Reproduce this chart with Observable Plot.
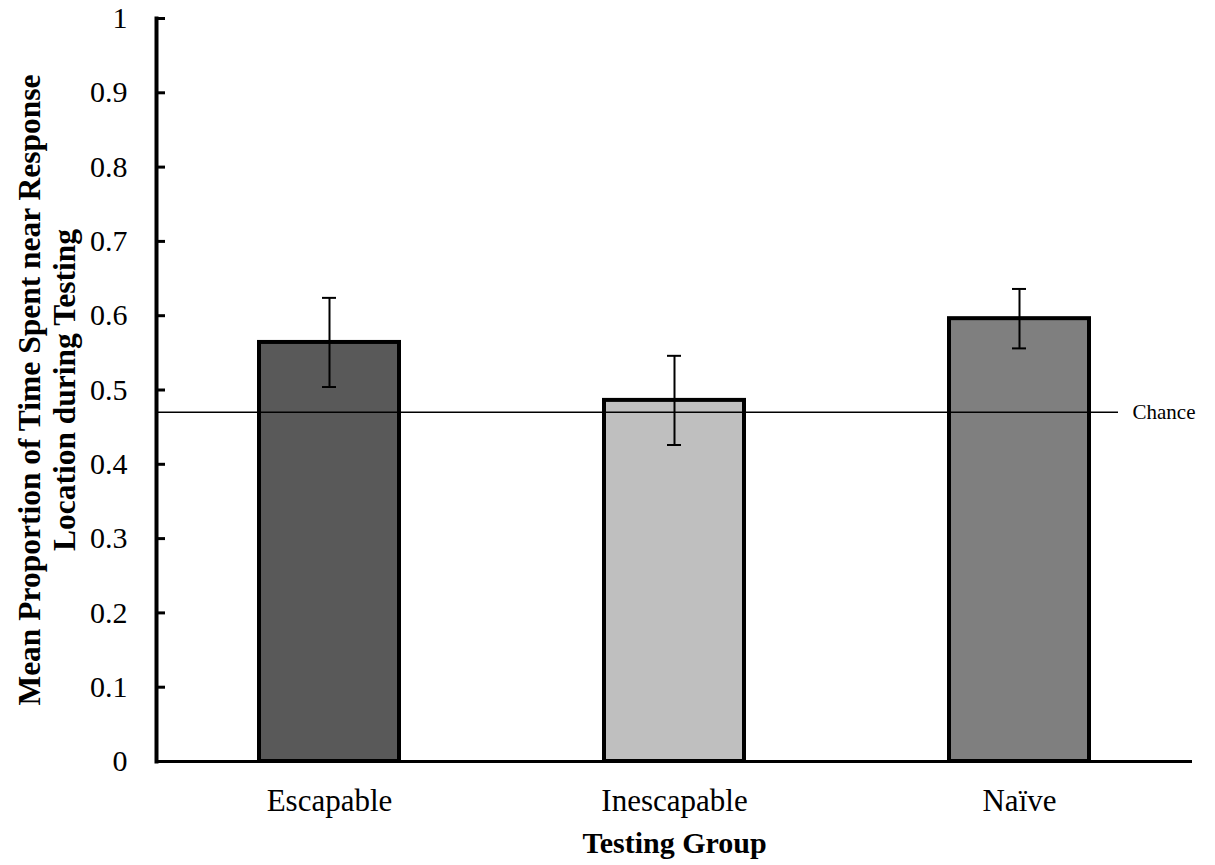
<!DOCTYPE html>
<html>
<head>
<meta charset="utf-8">
<script src="https://cdn.jsdelivr.net/npm/d3@7"></script>
<script src="https://cdn.jsdelivr.net/npm/@observablehq/plot@0.6"></script>
<style>
  html, body { margin: 0; padding: 0; background: #fff; }
  #chart svg { display: block; }
</style>
</head>
<body>
<div id="chart"></div>
<script>
const groups = ["Escapable", "Inescapable", "Naïve"];
const means = [0.564, 0.486, 0.596];
const errors = [0.060, 0.060, 0.040];
const barColors = ["#595959", "#bfbfbf", "#7f7f7f"];
const chance = 0.470;
const chanceLabel = "Chance";
const yTicks = [0, 0.1, 0.2, 0.3, 0.4, 0.5, 0.6, 0.7, 0.8, 0.9, 1];
const yTickLabels = ["0", "0.1", "0.2", "0.3", "0.4", "0.5", "0.6", "0.7", "0.8", "0.9", "1"];
const yTitle = "Mean Proportion of Time Spent near Response\nLocation during Testing";
const xTitle = "Testing Group";

const data = groups.map((g, i) => ({group: g, mean: means[i], lo: means[i] - errors[i], hi: means[i] + errors[i]}));

const chart = Plot.plot({
  width: 1215,
  height: 865,
  marginLeft: 156,
  marginRight: 23,
  marginTop: 18,
  marginBottom: 104,
  style: {fontFamily: "'Liberation Serif', 'Times New Roman', serif", background: "#fff", color: "#000"},
  x: {domain: groups, paddingInner: 0.595, paddingOuter: 0.2975, axis: null},
  y: {domain: [0, 1], axis: null},
  color: {domain: groups, range: barColors},
  marks: [
    Plot.barY(data, {x: "group", y: "mean", fill: "group", stroke: "#000", strokeWidth: 4}),
    Plot.ruleY([chance], {insetRight: 74, stroke: "#000", strokeWidth: 1.6}),
    Plot.text([chance], {y: d => d, frameAnchor: "right", textAnchor: "start", dx: -60, text: () => chanceLabel, fontSize: 21, fill: "#000"}),
    Plot.ruleX(data, {x: "group", y1: "lo", y2: "hi", stroke: "#000", strokeWidth: 2}),
    Plot.tickY(data, {x: "group", y: "lo", insetLeft: 63, insetRight: 63, stroke: "#000", strokeWidth: 2}),
    Plot.tickY(data, {x: "group", y: "hi", insetLeft: 63, insetRight: 63, stroke: "#000", strokeWidth: 2}),
    Plot.ruleY([0], {stroke: "#000", strokeWidth: 3}),
    Plot.frame({anchor: "left", stroke: "#000", strokeWidth: 4}),
    Plot.tickY(yTicks, {y: d => d, insetRight: 1027, stroke: "#000", strokeWidth: 3}),
    Plot.axisY({ticks: yTicks, tickSize: 0, tickPadding: 29, fontSize: 30, tickFormat: (d) => yTickLabels[yTicks.indexOf(d)], fill: "#000"}),
    Plot.axisX({tickSize: 0, tickPadding: 27, fontSize: 31, label: null, fill: "#000"}),
    Plot.text([xTitle], {frameAnchor: "bottom", lineAnchor: "bottom", dy: 91, text: d => d, fontSize: 30, fontWeight: "bold", fill: "#000"}),
    Plot.text([yTitle], {frameAnchor: "left", rotate: -90, textAnchor: "middle", dx: -110, lineAnchor: "middle", lineHeight: 1.12, text: d => d, fontSize: 31.5, fontWeight: "bold", fill: "#000"})
  ]
});
document.getElementById("chart").appendChild(chart);
</script>
</body>
</html>
